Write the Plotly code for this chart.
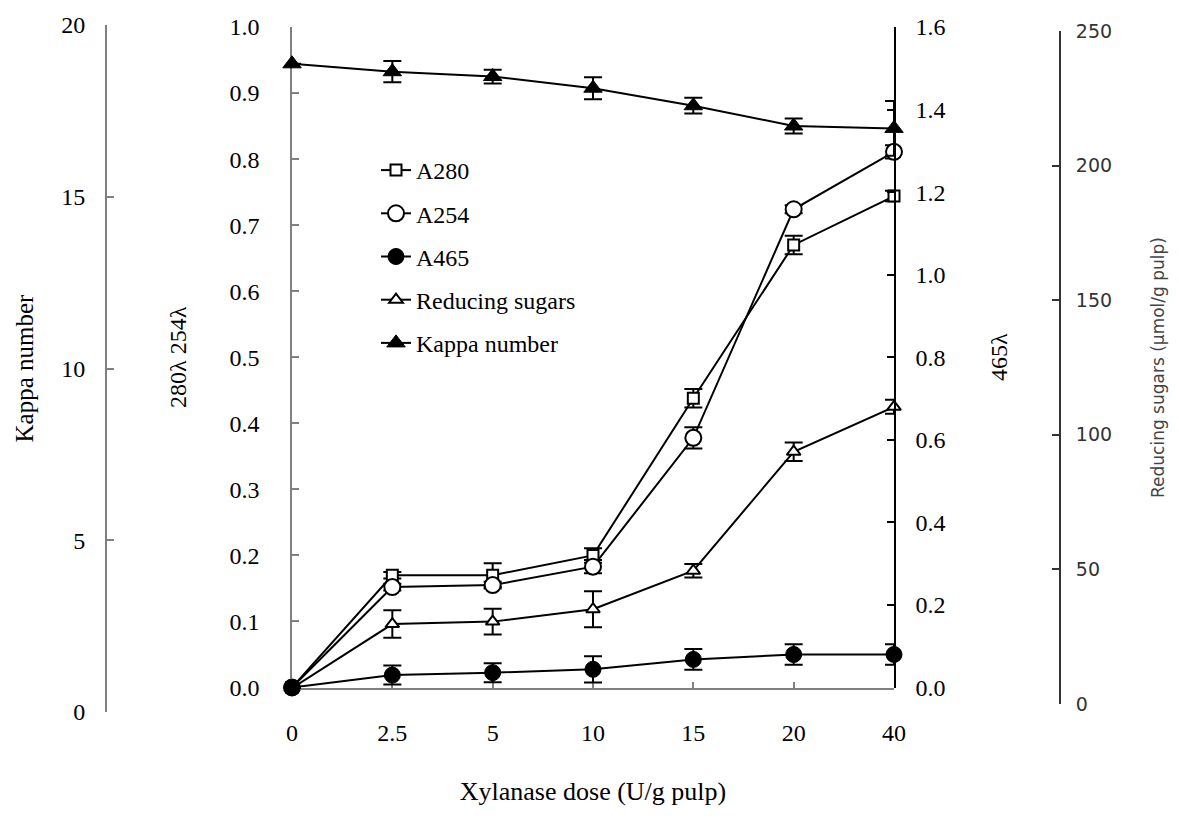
import plotly.graph_objects as go

# ---------------- data ----------------
doses = ["0", "2.5", "5", "10", "15", "20", "40"]

a280 = [0.0, 0.170, 0.170, 0.200, 0.438, 0.670, 0.744]
a280_err = [0.0, 0.005, 0.018, 0.011, 0.014, 0.014, 0.008]

a254 = [0.0, 0.152, 0.155, 0.183, 0.378, 0.724, 0.811]
a254_err = [0.0, 0.005, 0.005, 0.010, 0.016, 0.006, 0.010]

a465 = [0.0, 0.030, 0.036, 0.044, 0.068, 0.080, 0.080]
a465_err = [0.0, 0.023, 0.023, 0.032, 0.025, 0.025, 0.025]

sugars = [5.9, 29.7, 30.6, 35.2, 49.5, 93.7, 110.4]
sugars_err = [0.0, 5.1, 4.8, 6.7, 2.5, 3.4, 2.6]

kappa = [18.87, 18.64, 18.50, 18.16, 17.65, 17.06, 16.99]
kappa_err = [0.0, 0.31, 0.20, 0.32, 0.23, 0.22, 0.80]

# ---------------- styling ----------------
SERIF = "Liberation Serif"
SANS = "DejaVu Sans"
W, H = 1179, 825


def px_x(p):
    return p / W


def px_y(p):
    return 1 - p / H


def err(vals):
    return dict(type="data", array=vals, visible=True, color="black",
                thickness=2, width=9)


line = dict(color="black", width=2)

fig = go.Figure()

fig.add_trace(go.Scatter(
    x=doses, y=a280, name="A280", mode="lines+markers", line=line,
    marker=dict(symbol="square", size=11, color="white",
                line=dict(color="black", width=2)),
    error_y=err(a280_err), xaxis="x", yaxis="y", legendgroup="g1",
    legendrank=1, cliponaxis=False))

fig.add_trace(go.Scatter(
    x=doses, y=a254, name="A254", mode="lines+markers", line=line,
    marker=dict(symbol="circle", size=16, color="white",
                line=dict(color="black", width=2)),
    error_y=err(a254_err), xaxis="x", yaxis="y", legendgroup="g2",
    legendrank=2, cliponaxis=False))

# reducing sugars -> yaxis2 (far right axis)
fig.add_trace(go.Scatter(
    x=doses, y=sugars, name="Reducing sugars", mode="lines+markers", line=line,
    marker=dict(symbol="triangle-up", size=12, color="white",
                line=dict(color="black", width=2)),
    error_y=err(sugars_err), xaxis="x", yaxis="y2", legendgroup="g4",
    legendrank=4, cliponaxis=False))

# kappa -> yaxis3 (far left axis)
fig.add_trace(go.Scatter(
    x=doses, y=kappa, name="Kappa number", mode="lines+markers", line=line,
    marker=dict(symbol="triangle-up", size=16, color="black",
                line=dict(color="black", width=1)),
    error_y=err(kappa_err), xaxis="x", yaxis="y3", legendgroup="g5",
    legendrank=5, cliponaxis=False))

# A465 -> yaxis4 (inner right axis), drawn last
fig.add_trace(go.Scatter(
    x=doses, y=a465, name="A465", mode="lines+markers", line=line,
    marker=dict(symbol="circle", size=16, color="black",
                line=dict(color="black", width=1)),
    error_y=err(a465_err), xaxis="x", yaxis="y4", legendgroup="g3",
    legendrank=3, cliponaxis=False))

main_dom = [px_y(687.5), px_y(27)]
kappa_dom = [px_y(712), px_y(25)]
sug_dom = [px_y(704), px_y(31)]

tickfont = dict(family=SERIF, size=24, color="black")

fig.update_layout(
    template="none",
    width=W, height=H,
    margin=dict(l=0, r=0, t=0, b=0, autoexpand=False),
    paper_bgcolor="white",
    plot_bgcolor="rgba(0,0,0,0)",
    font=dict(family=SERIF, color="black"),
    showlegend=True,
    legend=dict(x=px_x(376), y=px_y(148), xanchor="left", yanchor="top",
                bgcolor="rgba(0,0,0,0)", borderwidth=0,
                traceorder="grouped", tracegroupgap=9,
                font=dict(family=SERIF, size=24, color="black")),
    xaxis=dict(
        domain=[px_x(292), px_x(894)], anchor="y", type="category",
        range=[0, 6], showgrid=False, zeroline=False, automargin=False,
        showline=True, linecolor="#808080", linewidth=1.5,
        ticks="inside", ticklen=6, tickcolor="#808080", tickwidth=1.5,
        tickfont=tickfont, ticklabelstandoff=23,
        title=dict(text="Xylanase dose (U/g pulp)",
                   font=dict(family=SERIF, size=26, color="black"),
                   standoff=37),
    ),
    yaxis=dict(
        domain=main_dom, anchor="x", range=[0, 1.0], dtick=0.1,
        tickformat=".1f", showgrid=False, zeroline=False, automargin=False,
        showline=True, linecolor="#808080", linewidth=1.5,
        ticks="inside", ticklen=7, tickcolor="#808080", tickwidth=1.5,
        tickfont=tickfont, ticklabelstandoff=26,
        title=dict(text="280λ 254λ",
                   font=dict(family=SERIF, size=24, color="black"),
                   standoff=36),
    ),
    yaxis4=dict(
        domain=main_dom, side="right", anchor="x", range=[0, 1.6], dtick=0.2,
        tickformat=".1f", showgrid=False, zeroline=False, automargin=False,
        showline=True, linecolor="black", linewidth=1.5,
        ticks="inside", ticklen=7, tickcolor="black", tickwidth=1.5,
        tickfont=tickfont, ticklabelstandoff=15,
        title=dict(text="465λ",
                   font=dict(family=SERIF, size=24, color="black"),
                   standoff=46),
    ),
    yaxis3=dict(
        domain=kappa_dom, anchor="free", position=px_x(106), side="left",
        range=[0, 20], dtick=5, showgrid=False, zeroline=False,
        automargin=False,
        showline=True, linecolor="#808080", linewidth=2,
        ticks="inside", ticklen=7, tickcolor="#808080", tickwidth=1.5,
        tickfont=tickfont, ticklabelstandoff=15,
        title=dict(text="Kappa number",
                   font=dict(family=SERIF, size=25, color="black"),
                   standoff=19),
    ),
    yaxis2=dict(
        domain=sug_dom, anchor="free", position=px_x(1060), side="right",
        range=[0, 250], dtick=50, showgrid=False, zeroline=False,
        automargin=False,
        showline=True, linecolor="#333333", linewidth=2,
        ticks="inside", ticklen=7, tickcolor="#333333", tickwidth=2,
        tickfont=dict(family=SANS, size=19, color="#333333"),
        ticklabelstandoff=11,
        title=dict(text="Reducing sugars (μmol/g pulp)",
                   font=dict(family=SANS, size=17, color="#444444"),
                   standoff=40),
    ),
)

fig.write_html("out.html")
